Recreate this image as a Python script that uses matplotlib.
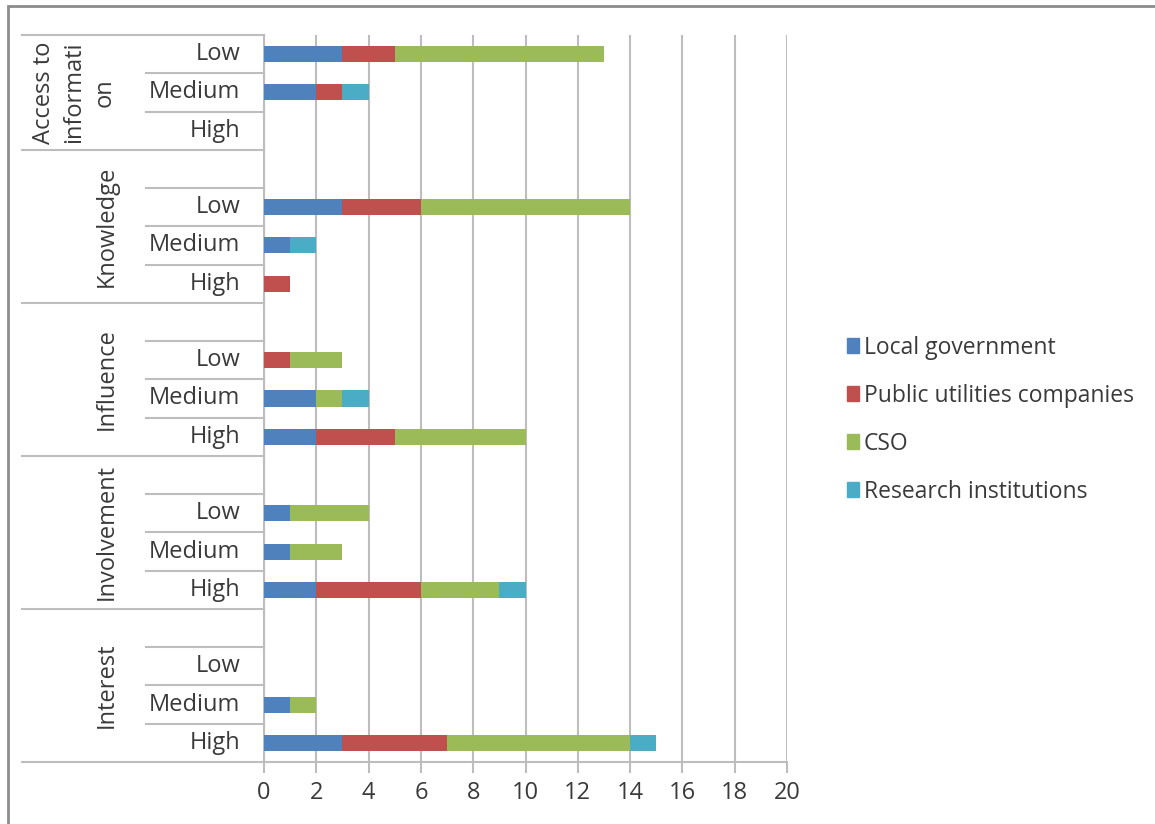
import matplotlib
matplotlib.use("Agg")
import matplotlib.pyplot as plt
import matplotlib.transforms as mtransforms
from matplotlib.lines import Line2D
from matplotlib.patches import Rectangle
import numpy as np

plt.rcParams["font.family"] = ["Open Sans", "DejaVu Sans"]

# stakeholder groups, top to bottom; each has Low / Medium / High rows
groups = ["Access to\ninformati\non", "Knowledge", "Influence", "Involvement", "Interest"]
levels = ["Low", "Medium", "High"]
series = ["Local government", "Public utilities companies", "CSO", "Research institutions"]
colors = ["#4F81BD", "#C0504D", "#9BBB59", "#4BACC6"]

# values per group as [Low, Medium, High]
local_gov   = [[3, 2, 0], [3, 1, 0], [0, 2, 2], [1, 1, 2], [0, 1, 3]]
public_util = [[2, 1, 0], [3, 0, 1], [1, 0, 3], [0, 0, 4], [0, 0, 4]]
cso         = [[8, 0, 0], [8, 0, 0], [2, 1, 5], [3, 2, 3], [0, 1, 7]]
research    = [[0, 1, 0], [0, 1, 0], [0, 1, 0], [0, 0, 1], [0, 0, 1]]

x_ticks = list(range(0, 21, 2))

W, H = 1155, 824
fig = plt.figure(figsize=(W / 100, H / 100), dpi=100)
fig.patch.set_facecolor("white")

# plot area in pixels
px_left, px_right, px_top, px_bottom = 264, 787, 35, 762
ax = fig.add_axes([px_left / W, 1 - px_bottom / H,
                   (px_right - px_left) / W, (px_bottom - px_top) / H])

n_rows = 4 * len(groups) - 1          # one blank spacer row above every group but the first
rows = np.array([[4 * g + i for i in range(3)] for g in range(len(groups))])

left = np.zeros(rows.shape)
for name, vals, col in zip(series, [local_gov, public_util, cso, research], colors):
    vals = np.array(vals, dtype=float)
    ax.barh(rows.ravel(), vals.ravel(), left=left.ravel(), height=0.42,
            color=col, label=name, zorder=3, linewidth=0)
    left += vals

txt = "#3A3A3A"
fs = 17

ax.set_xlim(0, 20)
ax.set_ylim(n_rows - 0.5, -0.5)
ax.set_xticks(x_ticks)
ax.set_yticks([])
ax.grid(axis="x", color="#BDBDBD", linewidth=1.5, zorder=0)
for side in ["top", "right"]:
    ax.spines[side].set_visible(False)
for side in ["left", "bottom"]:
    ax.spines[side].set_color("#BDBDBD")
    ax.spines[side].set_linewidth(1.5)
ax.tick_params(axis="x", length=8, width=1.5, color="#BDBDBD",
               labelsize=fs, labelcolor=txt, pad=6)

# multi-level category axis on the left
tr = mtransforms.blended_transform_factory(fig.transFigure, ax.transData)
line_kw = dict(color="#BDBDBD", linewidth=1.5, transform=tr, clip_on=False)
x_outer, x_inner, x_axis = 22 / W, 146 / W, px_left / W

ax.add_line(Line2D([x_outer, x_axis], [-0.5, -0.5], **line_kw))
for g in range(len(groups)):
    bottom_edge = 4 * g + 2.5
    ax.add_line(Line2D([x_outer, x_axis], [bottom_edge, bottom_edge], **line_kw))
    inner = [4 * g + 0.5, 4 * g + 1.5] + ([4 * g - 0.5] if g > 0 else [])
    for y in inner:
        ax.add_line(Line2D([x_inner, x_axis], [y, y], **line_kw))
    for i, lvl in enumerate(levels):
        ax.text(240 / W, rows[g, i], lvl, transform=tr, ha="right", va="center",
                fontsize=fs, color=txt)
    if g == 0:
        ax.text(74 / W, 1, groups[g], transform=tr, rotation=90, ha="center",
                va="center", multialignment="center", fontsize=fs,
                color=txt, linespacing=1.35)
    else:
        ax.text(107 / W, 4 * g + 0.5, groups[g], transform=tr, rotation=90,
                ha="center", va="center", fontsize=fs, color=txt)

# legend
handles = [Rectangle((0, 0), 1, 1, color=c) for c in colors]
fig.legend(handles, series, loc="upper left", bbox_to_anchor=(826 / W, 1 - 315 / H),
           frameon=False, fontsize=16.5, handlelength=0.55, handleheight=0.65,
           handletextpad=0.2, labelspacing=1.05, labelcolor=txt)

# chart frame
fig.add_artist(Rectangle((8 / W, -0.1), 1.2, 1 - 6 / H + 0.1, transform=fig.transFigure,
                         fill=False, edgecolor="#8C8C8C", linewidth=2))

fig.savefig("out.png", dpi=100, facecolor="white")
